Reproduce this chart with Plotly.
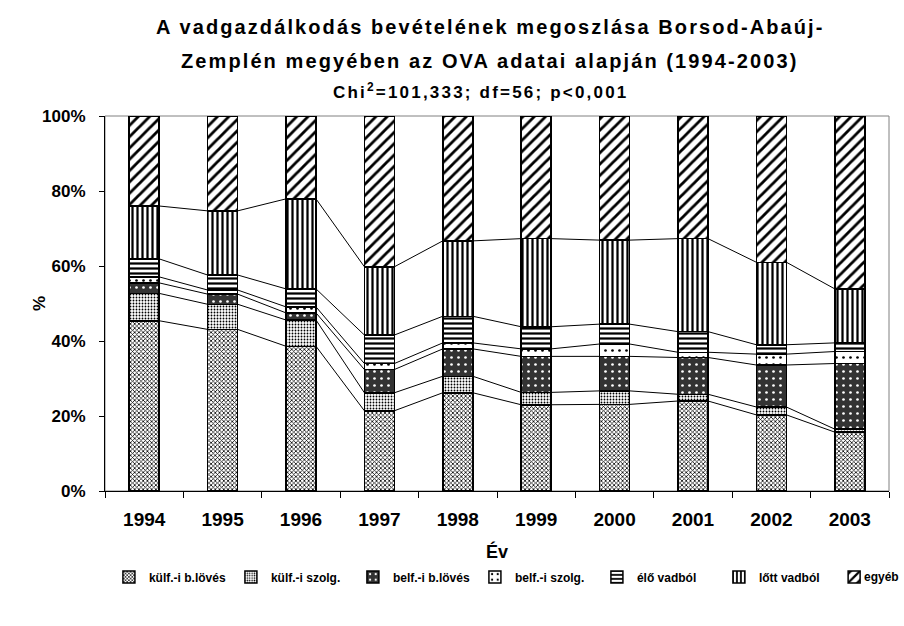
import plotly.graph_objects as go

years = ["1994", "1995", "1996", "1997", "1998", "1999", "2000", "2001", "2002", "2003"]
series_names = ["külf.-i b.lövés", "külf.-i szolg.", "belf.-i b.lövés", "belf.-i szolg.",
                "élő vadból", "lőtt vadból", "egyéb"]

kulf_blloves = [45.4, 43.1, 38.6, 21.4, 26.2, 23.0, 23.1, 24.0, 20.3, 15.7]
kulf_szolg   = [7.3, 6.7, 7.0, 4.8, 4.4, 3.3, 3.6, 1.8, 2.1, 0.8]
belf_blloves = [2.8, 2.7, 1.9, 6.2, 7.3, 9.6, 9.2, 9.8, 11.2, 17.5]
belf_szolg   = [1.6, 1.1, 1.6, 1.6, 1.6, 2.0, 3.3, 1.4, 2.9, 3.2]
elo_vad      = [4.8, 4.0, 4.8, 7.6, 7.1, 5.9, 5.3, 5.5, 2.5, 2.3]
lott_vad     = [14.1, 17.1, 24.0, 18.2, 20.1, 23.5, 22.4, 24.8, 22.0, 14.4]
egyeb        = [24.0, 25.3, 22.1, 40.2, 33.3, 32.7, 33.1, 32.7, 39.0, 46.1]

y_ticks = [0, 20, 40, 60, 80, 100]
y_tick_labels = ["0%", "20%", "40%", "60%", "80%", "100%"]

series_values = [kulf_blloves, kulf_szolg, belf_blloves, belf_szolg, elo_vad, lott_vad, egyeb]

patterns = [
    dict(shape="x", size=3, solidity=0.45, fgcolor="black", bgcolor="white"),
    dict(shape=".", size=3, solidity=0.3, fgcolor="black", bgcolor="white"),
    dict(shape=".", size=7, solidity=0.12, fgcolor="white", bgcolor="#333333"),
    dict(shape=".", size=7, solidity=0.12, fgcolor="black", bgcolor="white"),
    dict(shape="-", size=5, solidity=0.45, fgcolor="black", bgcolor="white"),
    dict(shape="|", size=5, solidity=0.45, fgcolor="black", bgcolor="white"),
    dict(shape="/", size=8, solidity=0.35, fgcolor="black", bgcolor="white"),
]

FONT = "Liberation Sans, Arial, sans-serif"
BAR_W = 0.383
xpos = list(range(len(years)))
last = len(series_names) - 1

fig = go.Figure()

for k, (name, vals, pat) in enumerate(zip(series_names, series_values, patterns)):
    fig.add_trace(go.Bar(
        x=xpos, y=vals, width=BAR_W,
        # the last legend entry gets its own legend box (symbol) + a text label,
        # so that the whole legend row fits the figure width
        name=name if k < last else " ",
        legend="legend" if k < last else "legend2",
        hovertemplate=f"{name}: %{{y}}%<extra></extra>",
        marker=dict(color="white", pattern=dict(fillmode="replace", **pat),
                    line=dict(color="black", width=1.5)),
    ))

# connector (series) lines between bars
cum = [0.0] * len(years)
for vals in series_values[:-1]:
    cum = [c + v for c, v in zip(cum, vals)]
    lx, ly = [], []
    for i in range(len(years) - 1):
        lx += [xpos[i] + BAR_W / 2, xpos[i + 1] - BAR_W / 2, None]
        ly += [cum[i], cum[i + 1], None]
    fig.add_trace(go.Scatter(x=lx, y=ly, mode="lines", showlegend=False,
                             line=dict(color="black", width=1), hoverinfo="skip"))

# plot area border (grey)
fig.add_shape(type="rect", xref="paper", yref="paper", x0=0, x1=1, y0=0, y1=1,
              line=dict(color="#808080", width=1), layer="below")


def spaced(txt, px):
    return f"<span style='letter-spacing:{px}px'>{txt}</span>"


legend_font = dict(size=12, family=FONT, color="black", weight="bold")
LEG_Y = -0.229

fig.update_layout(
    barmode="stack",
    width=904, height=626,
    margin=dict(l=105, r=15, t=116, b=135),
    paper_bgcolor="white", plot_bgcolor="white",
    font=dict(family=FONT, color="black"),
    showlegend=True,
    legend=dict(orientation="h", x=0.005, xanchor="left", y=LEG_Y, yanchor="middle",
                font=legend_font, traceorder="normal", entrywidth=77, itemwidth=30),
    legend2=dict(orientation="h", x=0.930, xanchor="left", y=LEG_Y, yanchor="middle",
                 font=legend_font, itemwidth=30),
    xaxis=dict(range=[-0.5, 9.5], tickvals=xpos, ticktext=years, ticks="",
               showline=True, linecolor="black", linewidth=1, showgrid=False, zeroline=False,
               tickfont=dict(size=19, weight="bold"), ticklabelstandoff=11,
               minor=dict(tickvals=[i - 0.5 for i in range(len(years) + 1)], ticks="outside",
                          ticklen=6, tickcolor="black", showgrid=False),
               title=dict(text="Év", font=dict(size=18, weight="bold"), standoff=16)),
    yaxis=dict(range=[0, 100], tickvals=y_ticks, ticktext=y_tick_labels, ticks="outside",
               ticklen=5, tickcolor="black", showline=True, linecolor="black", linewidth=1,
               showgrid=False, zeroline=False, tickfont=dict(size=17, weight="bold"),
               ticklabelstandoff=10),
    annotations=[
        dict(text=spaced("A vadgazdálkodás bevételének megoszlása Borsod-Abaúj-", 2.1),
             xref="paper", yref="paper",
             x=0.492, y=1.2373, xanchor="center", yanchor="middle", showarrow=False,
             font=dict(size=20, weight="bold")),
        dict(text=spaced("Zemplén megyében az OVA adatai alapján (1994-2003)", 2.1),
             xref="paper", yref="paper",
             x=0.490, y=1.1467, xanchor="center", yanchor="middle", showarrow=False,
             font=dict(size=20, weight="bold")),
        dict(text=spaced("Chi<sup>2</sup>=101,333; df=56; p<0,001", 2.2),
             xref="paper", yref="paper",
             x=0.480, y=1.0667, xanchor="center", yanchor="middle", showarrow=False,
             font=dict(size=17, weight="bold")),
        dict(text="%", xref="paper", yref="paper", x=-0.0842, y=0.501,
             xanchor="center", yanchor="middle", textangle=-90, showarrow=False,
             font=dict(size=17, weight="bold")),
        dict(text=series_names[last], xref="paper", yref="paper", x=0.966, y=LEG_Y,
             xanchor="left", yanchor="middle", showarrow=False, font=legend_font),
    ],
)

fig.write_html("out.html")
